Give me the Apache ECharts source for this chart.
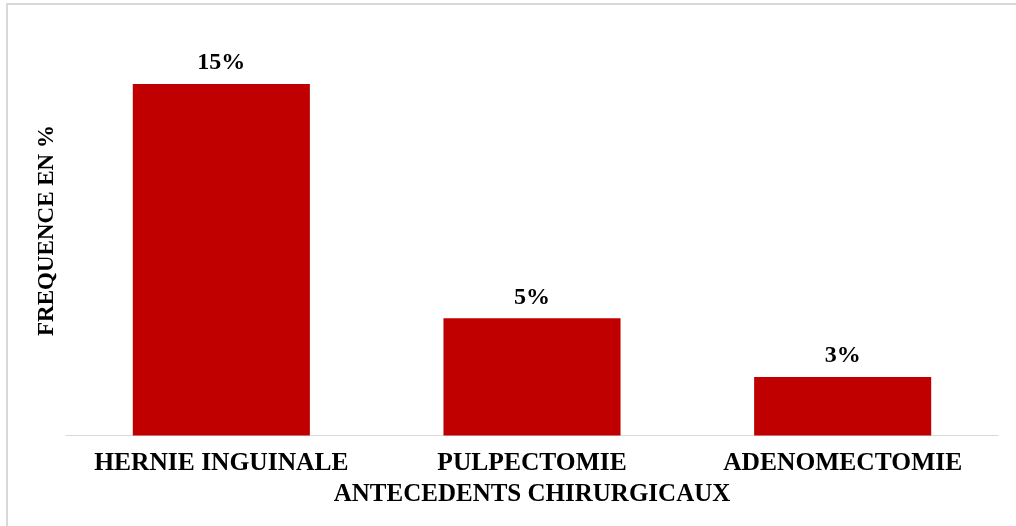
<!DOCTYPE html>
<html>
<head>
<meta charset="utf-8">
<script src="https://cdn.jsdelivr.net/npm/echarts@6/dist/echarts.min.js"></script>
<style>
html,body{margin:0;padding:0;background:#fff;}
#chart{width:1016px;height:526px;}
</style>
</head>
<body>
<div id="chart"></div>
<script>
var categories = ['HERNIE INGUINALE', 'PULPECTOMIE', 'ADENOMECTOMIE'];
var values = [15, 5, 2.5];
var yMax = 17.5;
var xTitle = 'ANTECEDENTS CHIRURGICAUX';
var yTitle = 'FREQUENCE EN %';

var FONT = '"Liberation Serif", "Times New Roman", serif';
var chart = echarts.init(document.getElementById('chart'));
chart.setOption({
  animation: false,
  backgroundColor: '#ffffff',
  graphic: [{
    type: 'rect',
    shape: { x: 7, y: 4, width: 1100, height: 600 },
    style: { fill: 'none', stroke: '#d9d9d9', lineWidth: 2 },
    silent: true
  }],
  grid: { left: 66, right: 18, top: 25.5, bottom: 90.5 },
  xAxis: {
    type: 'category',
    data: categories,
    axisLine: { show: true, lineStyle: { color: '#d9d9d9', width: 1 } },
    axisTick: { show: false },
    axisLabel: {
      margin: 15, color: '#000', fontFamily: FONT, fontWeight: 'bold', fontSize: 25.5,
      interval: 0
    },
    name: xTitle,
    nameLocation: 'middle',
    nameGap: 47,
    nameTextStyle: { color: '#000', fontFamily: FONT, fontWeight: 'bold', fontSize: 25 }
  },
  yAxis: {
    type: 'value',
    min: 0,
    max: yMax,
    axisLine: { show: false },
    axisTick: { show: false },
    axisLabel: { show: false },
    splitLine: { show: false },
    name: yTitle,
    nameLocation: 'middle',
    nameGap: 7,
    nameRotate: 90,
    nameTextStyle: { color: '#000', fontFamily: FONT, fontWeight: 'bold', fontSize: 23 }
  },
  series: [{
    type: 'bar',
    data: values,
    barCategoryGap: '43%',
    itemStyle: { color: '#c00000' },
    label: {
      show: true,
      position: 'top',
      distance: 9,
      color: '#000',
      fontFamily: FONT,
      fontWeight: 'bold',
      fontSize: 24,
      formatter: function (p) { return Math.round(p.value) + '%'; }
    }
  }]
});
</script>
</body>
</html>
